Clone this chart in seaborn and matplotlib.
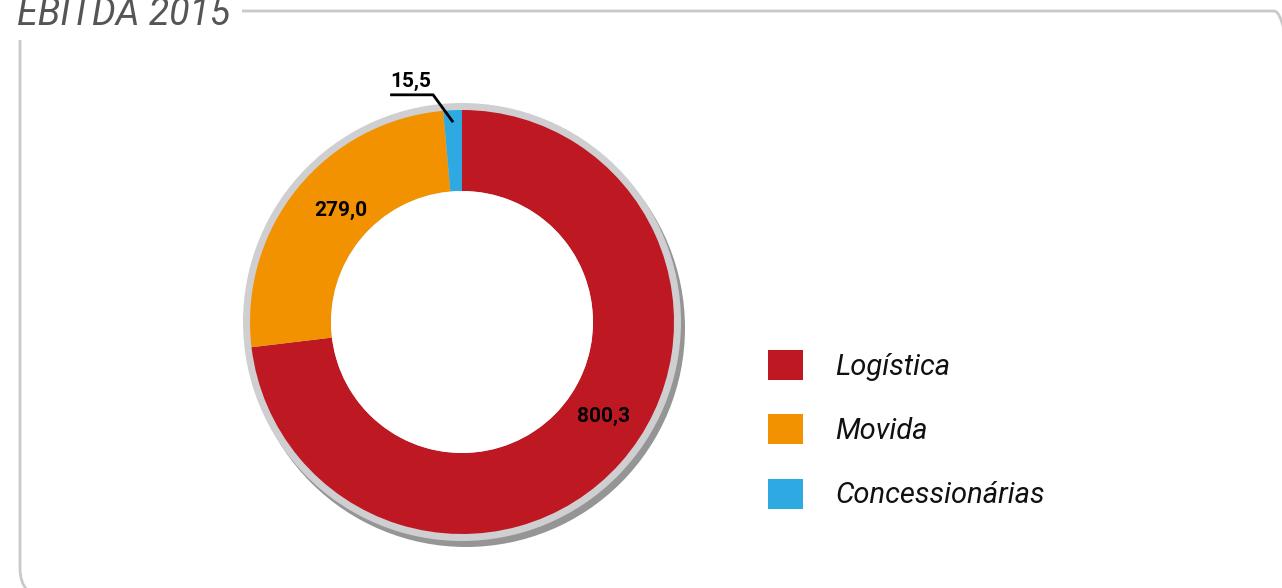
import numpy as np
import matplotlib
matplotlib.use("Agg")
import matplotlib.pyplot as plt
from matplotlib.patches import Circle, Patch, FancyBboxPatch, Rectangle
import seaborn as sns

# data
categories = ["Logística", "Movida", "Concessionárias"]
values = [800.3, 279.0, 15.5]
value_labels = ["800,3", "279,0", "15,5"]
title = "EBITDA 2015"

W, H = 1282, 588

sns.set_theme(style="white")
plt.rcParams['font.family'] = ['Roboto', 'DejaVu Sans']
colors = sns.color_palette(["#BE1823", "#F39200", "#2EA9E1"])

fig = plt.figure(figsize=(W / 100, H / 100), dpi=100)
ax = fig.add_axes([0, 0, 1, 1])

# pixel-like coordinates (y up)
cx, cy = 462, H - 322
r_out, r_in = 212, 131

# frame with rounded corners, partly outside the canvas
frame = FancyBboxPatch((20, -10), 1284, H - 11 + 10, boxstyle="round,pad=0,rounding_size=30",
                       fc="none", ec="#c9c9c9", lw=2, zorder=1)
ax.add_patch(frame)
ax.add_patch(Rectangle((0, H - 40), 242, 40, fc="white", ec="none", zorder=2))
ax.text(17, H - 25, title, fontsize=27, style="italic", fontweight="normal",
        color="#555555", ha="left", va="baseline", zorder=3)

# shadow + light ring
ax.add_patch(Circle((cx + 4, cy - 6), r_out + 7, fc="#959595", ec="none", zorder=2))
ax.add_patch(Circle((cx, cy), r_out + 7, fc="#cfcfd1", ec="none", zorder=3))

wedges, _ = ax.pie(values, colors=colors, startangle=90, counterclock=False,
                   center=(cx, cy), radius=r_out, frame=True,
                   wedgeprops=dict(width=r_out - r_in, linewidth=0, zorder=4))
for w in wedges:
    w.set_zorder(4)
ax.add_patch(Circle((cx, cy), r_in, fc="white", ec="none", zorder=5))

# value labels
nudge = [8, -3.5]
r_lab = (r_out + r_in) / 2 - 4
for i, w in enumerate(wedges[:2]):
    ang = np.deg2rad((w.theta1 + w.theta2) / 2 + nudge[i])
    ax.text(cx + r_lab * np.cos(ang) + 2, cy + r_lab * np.sin(ang) - 2, value_labels[i],
            fontsize=15, fontweight="bold", color="black", ha="center", va="center", zorder=6)

# small wedge with leader line
w = wedges[2]
mid = np.deg2rad((w.theta1 + w.theta2) / 2)
p_end = (cx + 200 * np.cos(mid), cy + 200 * np.sin(mid))
ang_e = mid + np.deg2rad(4.7)
p_elb = (cx + 229 * np.cos(ang_e), cy + 229 * np.sin(ang_e))
p_start = (p_elb[0] - 43, p_elb[1])
ax.plot([p_start[0], p_elb[0], p_end[0]], [p_start[1], p_elb[1], p_end[1]],
        color="black", lw=2, zorder=7, solid_capstyle="butt")
ax.text(p_start[0], p_start[1] + 4, value_labels[2], fontsize=15, fontweight="bold",
        color="black", ha="left", va="bottom", zorder=7)

# legend
handles = [Patch(facecolor=c, edgecolor="none") for c in colors]
leg = ax.legend(handles, categories, loc="upper left", bbox_to_anchor=(768 / W, 1 - 350 / H),
                frameon=False, borderpad=0, borderaxespad=0,
                handlelength=1.2, handleheight=1.2, handletextpad=1.1, labelspacing=1.15,
                prop=dict(size=21, style="italic", weight="normal"))
for t in leg.get_texts():
    t.set_color("#111111")

ax.set_xlim(0, W)
ax.set_ylim(0, H)
ax.set_aspect("equal")
ax.axis("off")

fig.savefig("out.png", dpi=100)
